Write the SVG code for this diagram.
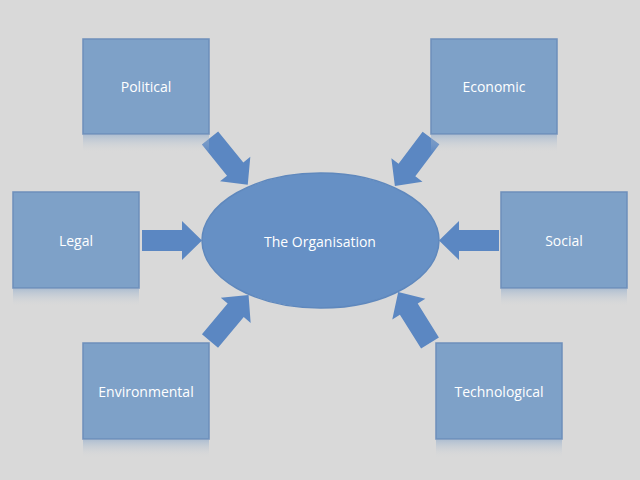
<svg xmlns="http://www.w3.org/2000/svg" width="640" height="480" viewBox="0 0 640 480">
<defs>
<style>
.box{fill:#7ea1c8;stroke:#6d8fbb;stroke-width:1.5}
.refl{fill:url(#rg)}
.lbl{font-family:"Open Sans","Liberation Sans",sans-serif;font-size:14px;fill:#ffffff;text-anchor:middle;dominant-baseline:central}
.arr{fill:#5b87c2}
</style>
<linearGradient id="rg" x1="0" y1="0" x2="0" y2="1">
<stop offset="0" stop-color="#8eaacb" stop-opacity="0.55"/>
<stop offset="1" stop-color="#d9d9d9" stop-opacity="0"/>
</linearGradient>
<path id="ar" d="M0,-10.5 H40 V-19.5 L60,0 L40,19.5 V10.5 H0 Z"/>
</defs>
<rect width="640" height="480" fill="#d9d9d9"/>
<g id="connectors">
<use href="#ar" class="arr" transform="translate(142,240.5)"/>
<use href="#ar" class="arr" transform="translate(499,240.5) rotate(180)"/>
<use href="#ar" class="arr" transform="translate(210,138) rotate(51)"/>
<use href="#ar" class="arr" transform="translate(431,138) rotate(127)"/>
<use href="#ar" class="arr" transform="translate(210,341) rotate(-50)"/>
<use href="#ar" class="arr" transform="translate(430,343) rotate(-122)"/>
</g>
<g id="organisation">
<ellipse cx="320.5" cy="240.5" rx="118.5" ry="67.5" fill="#6690c5" stroke="#5f88bd" stroke-width="1.5"/>
<text class="lbl" x="320" y="241">The Organisation</text>
</g>
<g id="political">
<rect class="refl" x="83" y="135" width="126" height="18"/>
<rect class="box" x="83" y="39" width="126" height="95"/>
<text class="lbl" x="146" y="86">Political</text>
</g>
<g id="economic">
<rect class="refl" x="431" y="135" width="126" height="18"/>
<rect class="box" x="431" y="39" width="126" height="95"/>
<text class="lbl" x="494" y="86">Economic</text>
</g>
<g id="legal">
<rect class="refl" x="13" y="289" width="126" height="18"/>
<rect class="box" x="13" y="192" width="126" height="96"/>
<text class="lbl" x="76" y="240">Legal</text>
</g>
<g id="social">
<rect class="refl" x="501" y="289" width="126" height="18"/>
<rect class="box" x="501" y="192" width="126" height="96"/>
<text class="lbl" x="564" y="240">Social</text>
</g>
<g id="environmental">
<rect class="refl" x="83" y="440" width="126" height="18"/>
<rect class="box" x="83" y="343" width="126" height="96"/>
<text class="lbl" x="146" y="391">Environmental</text>
</g>
<g id="technological">
<rect class="refl" x="436" y="440" width="126" height="18"/>
<rect class="box" x="436" y="343" width="126" height="96"/>
<text class="lbl" x="499" y="391">Technological</text>
</g>
</svg>
